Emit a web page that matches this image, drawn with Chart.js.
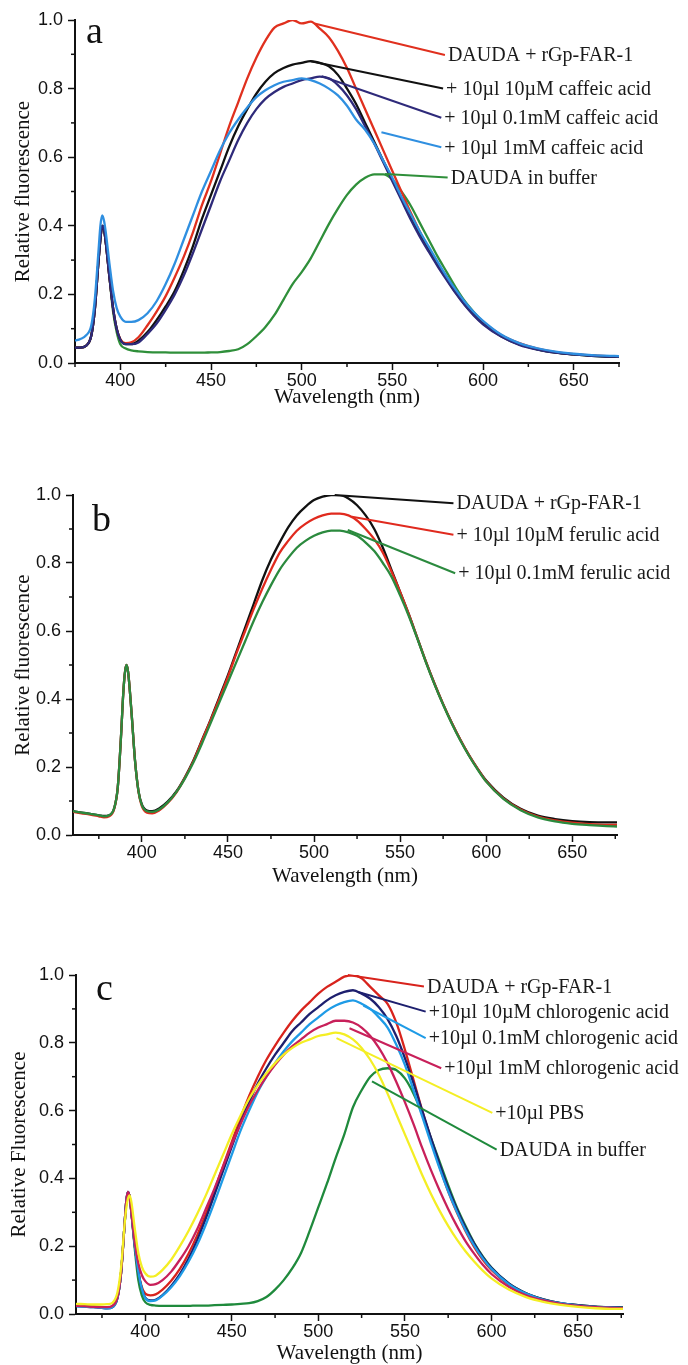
<!DOCTYPE html>
<html>
<head>
<meta charset="utf-8">
<script src="https://cdn.jsdelivr.net/npm/chart.js@4.4.1/dist/chart.umd.min.js"></script>
<style>
  html, body { margin: 0; padding: 0; background: #fff; }
  body { position: relative; width: 688px; height: 1365px; overflow: hidden; }
  canvas { position: absolute; left: 0; }
</style>
</head>
<body>
<canvas id="chartA" width="688" height="410" style="top:0px"></canvas>
<canvas id="chartB" width="688" height="420" style="top:470px"></canvas>
<canvas id="chartC" width="688" height="416" style="top:950px"></canvas>
<script>
// ---- data ----
var xTicks = [400, 450, 500, 550, 600, 650];
var yTicks = [0, 0.2, 0.4, 0.6, 0.8, 1.0];

// panel a : caffeic acid
var wlA = [375,378,381,384,386,388,389,390,391,392,394,396,398,400,403,406,
  410,415,420,425,430,435,440,445,450,455,460,465,470,475,480,485,490,495,500,505,
  510,515,520,525,530,535,540,545,550,555,560,565,570,575,580,585,590,595,600,
  610,620,630,640,650,660,670,675];
var aFar1 = [0.045,0.045,0.05,0.08,0.16,0.30,0.36,0.40,0.39,0.35,0.25,0.16,0.10,0.07,0.058,0.06,
  0.075,0.11,0.15,0.195,0.25,0.31,0.38,0.46,0.53,0.61,0.69,0.76,0.83,0.89,0.94,0.978,0.99,1.0,0.99,0.995,
  0.975,0.95,0.91,0.86,0.80,0.74,0.68,0.62,0.56,0.50,0.44,0.385,0.335,0.29,0.25,0.21,0.175,0.145,0.12,
  0.082,0.058,0.042,0.032,0.026,0.022,0.02,0.02];
var aCaf10uM = [0.045,0.045,0.05,0.08,0.16,0.30,0.36,0.40,0.39,0.35,0.25,0.16,0.10,0.068,0.055,0.055,
  0.065,0.09,0.125,0.165,0.21,0.27,0.34,0.42,0.49,0.56,0.63,0.69,0.74,0.785,0.82,0.845,0.86,0.87,0.875,0.88,
  0.875,0.865,0.84,0.80,0.755,0.70,0.645,0.59,0.535,0.48,0.425,0.375,0.33,0.285,0.245,0.205,0.17,0.14,0.115,
  0.078,0.054,0.04,0.03,0.025,0.021,0.019,0.019];
var aCaf01mM = [0.045,0.045,0.05,0.08,0.16,0.30,0.36,0.40,0.39,0.35,0.25,0.16,0.10,0.068,0.055,0.055,
  0.06,0.085,0.115,0.155,0.2,0.255,0.32,0.39,0.46,0.53,0.59,0.65,0.70,0.74,0.77,0.79,0.805,0.815,0.825,0.83,
  0.835,0.83,0.81,0.78,0.74,0.69,0.64,0.585,0.53,0.475,0.42,0.37,0.325,0.282,0.242,0.203,0.168,0.138,0.113,
  0.077,0.053,0.039,0.03,0.025,0.021,0.019,0.019];
var aCaf1mM = [0.065,0.07,0.08,0.11,0.19,0.33,0.40,0.43,0.415,0.38,0.29,0.21,0.16,0.135,0.12,0.12,
  0.125,0.145,0.18,0.23,0.29,0.36,0.43,0.5,0.56,0.62,0.67,0.71,0.745,0.775,0.795,0.81,0.82,0.825,0.83,0.825,
  0.815,0.80,0.78,0.75,0.71,0.68,0.64,0.59,0.54,0.485,0.435,0.385,0.34,0.295,0.252,0.213,0.178,0.148,0.123,
  0.083,0.058,0.043,0.033,0.027,0.023,0.021,0.02];
var aBuffer = [0.045,0.045,0.05,0.08,0.16,0.30,0.36,0.40,0.39,0.35,0.25,0.15,0.09,0.055,0.042,0.037,
  0.034,0.032,0.031,0.031,0.03,0.03,0.03,0.03,0.031,0.032,0.035,0.04,0.055,0.078,0.105,0.14,0.185,0.23,0.265,0.305,
  0.355,0.405,0.45,0.49,0.52,0.54,0.55,0.55,0.535,0.5,0.46,0.41,0.36,0.31,0.265,0.22,0.18,0.148,0.12,
  0.08,0.056,0.04,0.031,0.025,0.021,0.019,0.019];

// panel b : ferulic acid
var wlB = [360,365,370,375,378,381,384,386,388,389,390,391,392,394,396,398,400,403,406,
  410,415,420,425,430,435,440,445,450,455,460,465,470,475,480,485,490,495,500,505,
  510,515,520,525,530,535,540,545,550,555,560,565,570,575,580,585,590,595,600,
  610,620,630,640,650,660,670,676];
var bFar1 = [0.07,0.066,0.062,0.058,0.056,0.058,0.08,0.14,0.3,0.4,0.47,0.5,0.48,0.36,0.22,0.13,0.09,0.072,0.07,
  0.078,0.098,0.128,0.17,0.22,0.28,0.34,0.405,0.47,0.54,0.61,0.68,0.75,0.81,0.86,0.905,0.94,0.965,0.985,0.995,
  1.0,1.0,0.99,0.97,0.94,0.9,0.845,0.78,0.715,0.65,0.58,0.51,0.445,0.385,0.33,0.28,0.235,0.195,0.16,
  0.11,0.077,0.057,0.047,0.041,0.038,0.037,0.037];
var bFer10uM = [0.068,0.064,0.06,0.055,0.052,0.055,0.078,0.14,0.3,0.4,0.47,0.5,0.48,0.36,0.22,0.13,0.085,0.066,0.064,
  0.072,0.094,0.125,0.168,0.218,0.278,0.338,0.4,0.465,0.535,0.6,0.665,0.725,0.78,0.83,0.865,0.895,0.915,0.93,0.94,
  0.945,0.945,0.94,0.925,0.9,0.87,0.83,0.775,0.715,0.65,0.58,0.51,0.445,0.385,0.33,0.28,0.235,0.195,0.158,
  0.108,0.075,0.054,0.043,0.036,0.032,0.03,0.03];
var bFer01mM = [0.07,0.066,0.062,0.058,0.055,0.058,0.08,0.14,0.3,0.4,0.47,0.5,0.48,0.36,0.22,0.13,0.088,0.07,0.068,
  0.075,0.096,0.126,0.166,0.214,0.27,0.33,0.39,0.45,0.51,0.57,0.63,0.685,0.735,0.78,0.815,0.845,0.865,0.88,0.89,
  0.895,0.895,0.89,0.88,0.86,0.835,0.8,0.76,0.705,0.645,0.578,0.508,0.443,0.383,0.328,0.278,0.233,0.193,0.157,
  0.106,0.073,0.052,0.04,0.033,0.029,0.026,0.025];

// panel c : chlorogenic acid
var wlC = wlB.slice();
var cFar1 = [0.025,0.024,0.022,0.02,0.019,0.022,0.05,0.12,0.26,0.33,0.36,0.345,0.3,0.2,0.125,0.08,0.06,0.055,0.058,
  0.072,0.098,0.133,0.178,0.232,0.295,0.365,0.437,0.508,0.578,0.643,0.7,0.75,0.792,0.83,0.865,0.895,0.92,0.945,0.965,
  0.98,0.995,1.0,0.99,0.965,0.94,0.915,0.86,0.78,0.69,0.6,0.515,0.435,0.362,0.3,0.245,0.198,0.16,0.13,
  0.086,0.058,0.041,0.031,0.025,0.021,0.019,0.018];
var cChl10uM = [0.023,0.022,0.02,0.018,0.017,0.02,0.048,0.12,0.26,0.33,0.36,0.345,0.3,0.2,0.125,0.075,0.048,0.04,0.042,
  0.056,0.083,0.118,0.163,0.218,0.282,0.352,0.423,0.494,0.563,0.625,0.68,0.725,0.765,0.8,0.835,0.86,0.885,0.905,0.925,
  0.94,0.95,0.955,0.945,0.93,0.905,0.87,0.82,0.755,0.68,0.6,0.52,0.443,0.372,0.31,0.255,0.208,0.168,0.136,
  0.09,0.061,0.043,0.032,0.026,0.022,0.02,0.019];
var cChl01mM = [0.023,0.022,0.02,0.018,0.017,0.02,0.048,0.12,0.26,0.33,0.36,0.345,0.3,0.2,0.125,0.075,0.047,0.038,0.04,
  0.054,0.079,0.112,0.154,0.204,0.264,0.33,0.4,0.47,0.54,0.6,0.655,0.7,0.74,0.775,0.805,0.83,0.855,0.875,0.895,
  0.91,0.92,0.925,0.915,0.9,0.875,0.845,0.795,0.735,0.66,0.583,0.505,0.43,0.362,0.302,0.248,0.202,0.164,0.133,
  0.088,0.06,0.042,0.032,0.025,0.021,0.019,0.018];
var cChl1mM = [0.024,0.023,0.021,0.02,0.02,0.024,0.05,0.12,0.26,0.33,0.36,0.345,0.3,0.21,0.15,0.115,0.097,0.086,0.088,
  0.1,0.125,0.16,0.2,0.25,0.31,0.37,0.435,0.5,0.56,0.615,0.66,0.7,0.735,0.765,0.79,0.81,0.83,0.845,0.855,
  0.865,0.865,0.86,0.845,0.82,0.785,0.74,0.685,0.625,0.56,0.49,0.425,0.365,0.31,0.26,0.215,0.178,0.145,0.118,
  0.08,0.055,0.04,0.03,0.024,0.02,0.018,0.017];
var cPBS = [0.03,0.029,0.028,0.028,0.029,0.033,0.065,0.135,0.26,0.31,0.34,0.35,0.33,0.25,0.18,0.14,0.12,0.11,0.113,
  0.13,0.16,0.2,0.245,0.295,0.35,0.41,0.47,0.53,0.585,0.635,0.675,0.71,0.74,0.765,0.785,0.8,0.81,0.82,0.825,
  0.83,0.825,0.81,0.785,0.75,0.705,0.65,0.59,0.53,0.47,0.41,0.355,0.305,0.26,0.22,0.185,0.155,0.128,0.105,
  0.072,0.05,0.036,0.027,0.021,0.017,0.015,0.015];
var cBuffer = [0.025,0.024,0.022,0.02,0.019,0.022,0.05,0.12,0.26,0.33,0.36,0.345,0.3,0.19,0.1,0.055,0.035,0.027,0.025,
  0.024,0.024,0.024,0.024,0.025,0.025,0.026,0.027,0.028,0.03,0.032,0.038,0.05,0.072,0.1,0.135,0.18,0.245,0.315,0.385,
  0.46,0.53,0.61,0.66,0.7,0.72,0.725,0.72,0.695,0.65,0.59,0.52,0.45,0.38,0.315,0.26,0.21,0.17,0.137,
  0.09,0.061,0.043,0.032,0.026,0.022,0.02,0.02];

// ---- drawing ----
var SANS = '"Liberation Sans", Arial, sans-serif';
var SERIF = '"Liberation Serif", "Times New Roman", serif';

// minor ticks, leader lines with their labels, panel letter
var annotate = {
  id: 'annotate',
  afterDatasetsDraw: function(chart, args, opts) {
    var ctx = chart.ctx, x = chart.scales.x, y = chart.scales.y;
    ctx.save();
    ctx.strokeStyle = '#111';
    ctx.lineWidth = 1.5;
    for (var v = Math.ceil(x.min / 25) * 25; v <= x.max; v += 25) {
      if (v % 50 === 0) continue;
      var px = x.getPixelForValue(v);
      ctx.beginPath(); ctx.moveTo(px, y.bottom); ctx.lineTo(px, y.bottom + 4); ctx.stroke();
    }
    [0.1, 0.3, 0.5, 0.7, 0.9].forEach(function(t) {
      var py = y.getPixelForValue(t);
      ctx.beginPath(); ctx.moveTo(x.left, py); ctx.lineTo(x.left - 4, py); ctx.stroke();
    });

    ctx.font = '20px ' + SERIF;
    ctx.textBaseline = 'middle';
    ctx.textAlign = 'left';
    opts.labels.forEach(function(l) {
      var x1 = x.getPixelForValue(l.from[0]), y1 = y.getPixelForValue(l.from[1]);
      var x2 = x.getPixelForValue(l.to[0]), y2 = y.getPixelForValue(l.to[1]);
      ctx.strokeStyle = chart.data.datasets[l.ds].borderColor;
      ctx.lineWidth = 2;
      ctx.beginPath(); ctx.moveTo(x1, y1); ctx.lineTo(x2, y2); ctx.stroke();
      ctx.fillStyle = '#1a1a1a';
      ctx.fillText(l.text, x2 + 3, y2 + 1);
    });

    ctx.font = '38px ' + SERIF;
    ctx.textBaseline = 'alphabetic';
    ctx.fillStyle = '#111';
    ctx.fillText(opts.letter, chart.chartArea.left + opts.letterPos[0], chart.chartArea.top + opts.letterPos[1]);
    ctx.restore();
  }
};

function makeChart(id, wl, series, box, extra) {
  var canvas = document.getElementById(id);
  var H = canvas.height;
  series.forEach(function(s) {
    if (s.values.length !== wl.length) throw new Error(id + ' ' + s.label + ' length ' + s.values.length);
  });
  return new Chart(canvas, {
    type: 'line',
    data: {
      datasets: series.map(function(s) {
        return {
          label: s.label,
          data: wl.map(function(w, i) { return {x: w, y: s.values[i]}; }),
          borderColor: s.color,
          borderWidth: 2.3,
          pointRadius: 0,
          fill: false,
          cubicInterpolationMode: 'monotone'
        };
      })
    },
    options: {
      responsive: false,
      animation: false,
      layout: { padding: { left: 0, top: box.top, right: 688 - box.right, bottom: 0 } },
      plugins: {
        legend: { display: false },
        tooltip: { enabled: false },
        annotate: extra
      },
      scales: {
        x: {
          type: 'linear',
          min: box.xMin, max: box.xMax,
          afterBuildTicks: function(s) { s.ticks = xTicks.map(function(v) { return {value: v}; }); },
          afterFit: function(s) { s.height = H - box.bottom; },
          grid: { drawOnChartArea: false, tickLength: 7, tickWidth: 1.5, tickColor: '#111' },
          border: { display: true, color: '#111', width: 2 },
          ticks: { font: { family: SANS, size: 18, lineHeight: 1 }, color: '#111', padding: 2, maxRotation: 0, autoSkip: false },
          title: { display: true, text: 'Wavelength (nm)', color: '#111',
                   font: { family: SERIF, size: 21, lineHeight: 1.2 }, padding: { top: 0, bottom: box.xTitlePad } }
        },
        y: {
          min: 0, max: 1,
          afterBuildTicks: function(s) { s.ticks = yTicks.map(function(v) { return {value: v}; }); },
          afterFit: function(s) { s.width = box.left; },
          grid: { drawOnChartArea: false, tickLength: 7, tickWidth: 1.5, tickColor: '#111' },
          border: { display: true, color: '#111', width: 2 },
          ticks: { font: { family: SANS, size: 18 }, color: '#111', padding: 5,
                   callback: function(v) { return v.toFixed(1); } },
          title: { display: true, text: box.yTitle, color: '#111',
                   font: { family: SERIF, size: 21, lineHeight: 1.2 }, padding: { top: box.yTitlePad, bottom: 0 } }
        }
      }
    },
    plugins: [annotate]
  });
}

makeChart('chartA', wlA, [
  { label: '+ 10µl 1mM caffeic acid', values: aCaf1mM, color: '#2f8fe0' },
  { label: '+ 10µl 0.1mM caffeic acid', values: aCaf01mM, color: '#2e2a7a' },
  { label: '+ 10µl 10µM caffeic acid', values: aCaf10uM, color: '#111111' },
  { label: 'DAUDA + rGp-FAR-1', values: aFar1, color: '#e0301e' },
  { label: 'DAUDA in buffer', values: aBuffer, color: '#2f8f3a' }
], { left: 75, right: 619, top: 20, bottom: 363, xMin: 375, xMax: 675,
     xTitlePad: 0, yTitlePad: 11, yTitle: 'Relative fluorescence' },
{ letter: 'a', letterPos: [11, 23], labels: [
  { ds: 3, from: [507, 0.99], to: [579, 0.898], text: 'DAUDA + rGp-FAR-1' },
  { ds: 2, from: [505, 0.88], to: [578, 0.80], text: '+ 10µl 10µM caffeic acid' },
  { ds: 1, from: [511, 0.836], to: [577, 0.715], text: '+ 10µl 0.1mM caffeic acid' },
  { ds: 0, from: [544, 0.673], to: [577, 0.629], text: '+ 10µl 1mM caffeic acid' },
  { ds: 4, from: [546, 0.551], to: [580.5, 0.541], text: 'DAUDA in buffer' }
]});

makeChart('chartB', wlB, [
  { label: '+ 10µl 0.1mM ferulic acid', values: bFer01mM, color: '#2b8a3e' },
  { label: '+ 10µl 10µM ferulic acid', values: bFer10uM, color: '#e02a1e' },
  { label: 'DAUDA + rGp-FAR-1', values: bFar1, color: '#111111' }
], { left: 73, right: 617, top: 25, bottom: 365, xMin: 360, xMax: 676,
     xTitlePad: 1, yTitlePad: 11, yTitle: 'Relative fluorescence' },
{ letter: 'b', letterPos: [19, 36], labels: [
  { ds: 2, from: [512, 1.0], to: [581, 0.976], text: 'DAUDA + rGp-FAR-1' },
  { ds: 1, from: [522, 0.936], to: [581, 0.883], text: '+ 10µl 10µM ferulic acid' },
  { ds: 0, from: [519.6, 0.897], to: [582, 0.77], text: '+ 10µl 0.1mM ferulic acid' }
]});

makeChart('chartC', wlC, [
  { label: '+10µl PBS', values: cPBS, color: '#f4ee24' },
  { label: '+10µl 1mM chlorogenic acid', values: cChl1mM, color: '#c8205a' },
  { label: '+10µl 0.1mM chlorogenic acid', values: cChl01mM, color: '#1e9be6' },
  { label: '+10µl 10µM chlorogenic acid', values: cChl10uM, color: '#1d1f6e' },
  { label: 'DAUDA + rGp-FAR-1', values: cFar1, color: '#d8231c' },
  { label: 'DAUDA in buffer', values: cBuffer, color: '#1f8a3c' }
], { left: 76, right: 623, top: 25, bottom: 364, xMin: 360, xMax: 676,
     xTitlePad: 0, yTitlePad: 7, yTitle: 'Relative Fluorescence' },
{ letter: 'c', letterPos: [20, 25], labels: [
  { ds: 4, from: [517, 1.0], to: [561, 0.966], text: 'DAUDA + rGp-FAR-1' },
  { ds: 3, from: [523, 0.95], to: [562, 0.892], text: '+10µl 10µM chlorogenic acid' },
  { ds: 2, from: [526, 0.91], to: [562, 0.814], text: '+10µl 0.1mM chlorogenic acid' },
  { ds: 1, from: [518, 0.843], to: [571, 0.725], text: '+10µl 1mM chlorogenic acid' },
  { ds: 0, from: [510.5, 0.814], to: [600.5, 0.593], text: '+10µl PBS' },
  { ds: 5, from: [531, 0.686], to: [603, 0.485], text: 'DAUDA in buffer' }
]});
</script>
</body>
</html>
